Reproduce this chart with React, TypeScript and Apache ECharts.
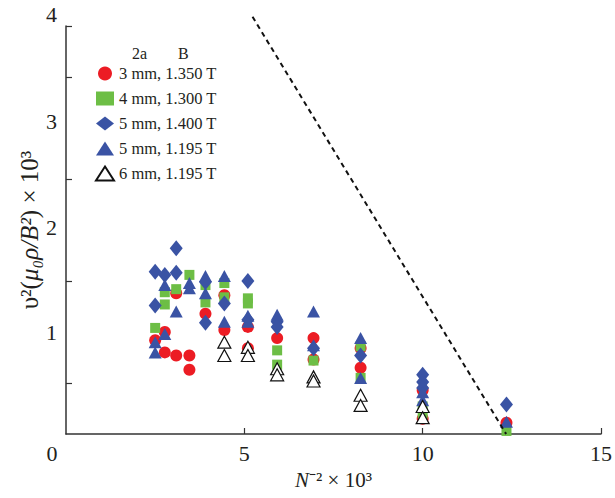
import React, { useEffect, useRef } from "react";
import * as echarts from "echarts";

// N^-2 x 10^3 values (N = 20 ... 9)
const seriesNames = ["3 mm, 1.350 T", "4 mm, 1.300 T", "5 mm, 1.400 T", "5 mm, 1.195 T", "6 mm, 1.195 T"];

const red3mm: number[][] = [
  [2.5, 0.92], [2.77, 1.0], [2.77, 0.8], [3.09, 1.38], [3.09, 0.77], [3.46, 0.77], [3.46, 0.63],
  [3.91, 1.18], [4.44, 1.36], [4.44, 1.02], [5.1, 1.05], [5.1, 0.84], [5.92, 0.94], [6.94, 0.94],
  [6.94, 0.73], [8.26, 0.84], [8.26, 0.65], [10.0, 0.43], [10.0, 0.15], [12.35, 0.11],
];
const green4mm: number[][] = [
  [2.5, 1.04], [2.77, 1.39], [2.77, 1.27], [3.09, 1.42], [3.46, 1.56], [3.91, 1.46], [3.91, 1.29],
  [4.44, 1.48], [4.44, 1.34], [5.1, 1.33], [5.1, 1.28], [5.92, 0.82], [5.92, 0.68], [6.94, 0.72],
  [8.26, 0.86], [8.26, 0.55], [10.0, 0.27], [10.0, 0.2], [12.35, 0.03],
];
const blue5mmDiamond: number[][] = [
  [2.5, 1.59], [2.5, 1.26], [2.77, 1.56], [3.09, 1.82], [3.09, 1.58], [3.91, 1.49], [3.91, 1.09],
  [4.44, 1.28], [5.1, 1.5], [5.1, 1.12], [5.92, 1.1], [5.92, 1.05], [6.94, 0.84], [8.26, 0.77],
  [10.0, 0.58], [10.0, 0.51], [10.0, 0.45], [12.35, 0.29],
];
const blue5mmTri: number[][] = [
  [2.5, 0.9], [2.5, 0.8], [2.77, 0.98], [2.77, 1.46], [3.09, 1.2], [3.46, 1.48], [3.46, 1.43],
  [3.91, 1.55], [3.91, 1.38], [4.44, 1.55], [4.44, 1.1], [5.1, 1.16], [5.1, 1.1], [5.92, 1.17],
  [6.94, 1.2], [6.94, 0.87], [8.26, 0.94], [8.26, 0.55], [10.0, 0.41], [10.0, 0.33], [12.35, 0.12],
];
const open6mm: number[][] = [
  [4.44, 0.9], [4.44, 0.77], [5.1, 0.85], [5.1, 0.77], [5.92, 0.64], [5.92, 0.58], [6.94, 0.56],
  [6.94, 0.52], [8.26, 0.38], [8.26, 0.28], [10.0, 0.27], [10.0, 0.16],
];
const dashedLimit: number[][] = [[5.23, 4.09], [12.34, 0]];

const xTicks = [0, 5, 10, 15];
const yLabels = [1, 2, 3, 4];
const yTicks = [0.5, 1.5, 2.5, 3.5, 4];

const SERIF = "Liberation Serif";

export default function App() {
  const ref = useRef<HTMLDivElement>(null);
  useEffect(() => {
    if (!ref.current) return;
    const chart = echarts.init(ref.current, null, { renderer: "svg" });
    const text = "#231f20";
    const scatter = (name: string, data: number[][], symbol: string, size: any, color: string, border?: string) => ({
      name,
      type: "scatter",
      data,
      symbol,
      symbolSize: size,
      itemStyle: border
        ? { color, borderColor: border, borderWidth: 1.2, opacity: 1 }
        : { color, opacity: 1 },
    });
    chart.setOption({
      animation: false,
      backgroundColor: "#fff",
      textStyle: { fontFamily: SERIF },
      grid: { left: 66, right: 13, top: 26, bottom: 64 },
      legend: {
        data: seriesNames,
        orient: "vertical",
        left: 95,
        top: 65,
        padding: 0,
        itemWidth: 18,
        itemHeight: 14,
        itemGap: 8,
        textStyle: { fontFamily: SERIF, fontSize: 16.5, color: text, lineHeight: 16 },
      },
      graphic: [
        { type: "text", left: 132, top: 45, style: { text: "2a", fontFamily: SERIF, fontSize: 16, fill: text } },
        { type: "text", left: 178, top: 45, style: { text: "B", fontFamily: SERIF, fontSize: 16, fill: text } },
      ],
      xAxis: {
        type: "value",
        min: 0,
        max: 15,
        interval: 5,
        splitLine: { show: false },
        axisLine: { lineStyle: { color: "#333", width: 1.5 } },
        axisTick: { inside: true, length: 6, lineStyle: { color: "#333", width: 1.2 }, customValues: xTicks.slice(1) },
        axisLabel: {
          customValues: xTicks,
          margin: 8,
          fontFamily: SERIF,
          fontSize: 22,
          color: text,
          formatter: (v: number) => (v === 0 ? "{z|0}" : String(v)),
          rich: {
            z: { fontFamily: SERIF, fontSize: 22, color: text, padding: [0, 28, 0, 0] },
          },
        },
        name: "{i|N}{n|⁻² × 10³}",
        nameLocation: "middle",
        nameGap: 35,
        nameMoveOverlap: false,
        nameTextStyle: {
          rich: {
            i: { fontFamily: SERIF, fontSize: 21, fontStyle: "italic", color: text },
            n: { fontFamily: SERIF, fontSize: 21, color: text },
          },
        },
      },
      yAxis: {
        type: "value",
        min: 0,
        max: 4,
        interval: 0.5,
        splitLine: { show: false },
        axisLine: { lineStyle: { color: "#333", width: 1.5 } },
        axisTick: { inside: true, length: 6, lineStyle: { color: "#333", width: 1.2 }, customValues: yTicks },
        axisLabel: {
          customValues: yLabels,
          margin: 9,
          fontFamily: SERIF,
          fontSize: 22,
          color: text,
          formatter: (v: number) => `{l${v}|${v}}`,
          rich: {
            l1: { fontFamily: SERIF, fontSize: 22, color: text, padding: [0, 0, 0, 0] },
            l2: { fontFamily: SERIF, fontSize: 22, color: text, padding: [0, 0, 6, 0] },
            l3: { fontFamily: SERIF, fontSize: 22, color: text, padding: [0, 0, 14, 0] },
            l4: { fontFamily: SERIF, fontSize: 22, color: text, padding: [0, 0, 24, 0] },
          },
        },
        name: "{n|υ²(}{i|μ₀ρ/B²}{n|) × 10³}",
        nameLocation: "middle",
        nameRotate: 90,
        nameGap: 24,
        nameMoveOverlap: false,
        nameTextStyle: {
          rich: {
            i: { fontFamily: SERIF, fontSize: 25, fontStyle: "italic", color: text },
            n: { fontFamily: SERIF, fontSize: 25, color: text },
          },
        },
      },
      series: [
        scatter(seriesNames[0], red3mm, "circle", 12, "#ec1c24"),
        scatter(seriesNames[1], green4mm, "rect", 10, "#6dbe45"),
        scatter(seriesNames[2], blue5mmDiamond, "diamond", [13, 16], "#3a53a4"),
        scatter(seriesNames[3], blue5mmTri, "triangle", [13, 12], "#3a53a4"),
        scatter(seriesNames[4], open6mm, "triangle", [13, 12], "#ffffff", "#111111"),
        {
          type: "line",
          data: dashedLimit,
          symbol: "none",
          clip: false,
          silent: true,
          lineStyle: { color: "#111", width: 2, type: [5, 4] },
        },
      ],
    });
    return () => chart.dispose();
  }, []);
  return (
    <div
      ref={ref}
      style={{ position: "fixed", left: 0, top: 0, width: 615, height: 498, background: "#fff" }}
    />
  );
}
